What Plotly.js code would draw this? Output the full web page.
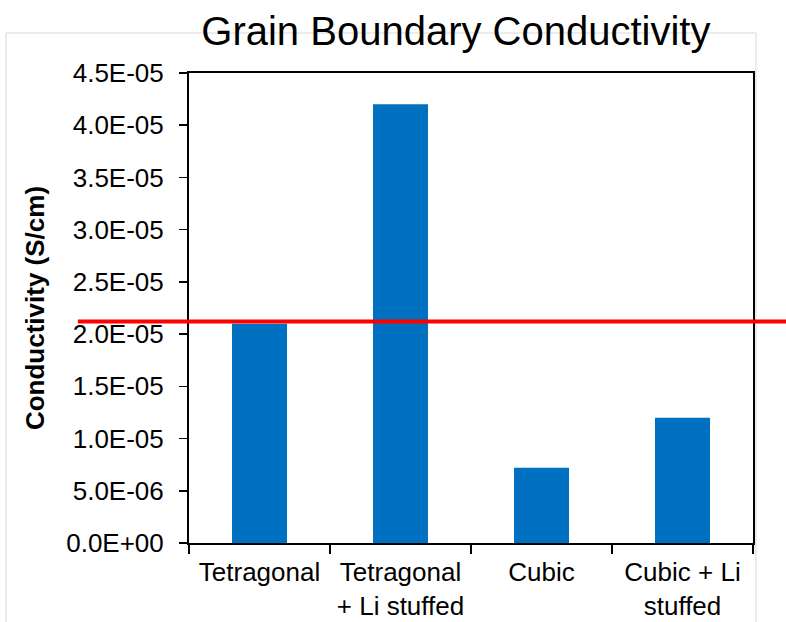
<!DOCTYPE html>
<html>
<head>
<meta charset="utf-8">
<script src="https://cdn.plot.ly/plotly-3.0.1.min.js"></script>
<style>html,body{margin:0;padding:0;background:#fff;}#chart{width:786px;height:622px;}</style>
</head>
<body>
<div id="chart"></div>
<script>
const categories = ["Tetragonal", "Tetragonal<br>+ Li stuffed", "Cubic", "Cubic + Li<br>stuffed"];
const conductivity = [2.1e-5, 4.2e-5, 7.2e-6, 1.2e-5];
const referenceLevel = 2.12e-5;
const yTickVals = [0, 5e-6, 1e-5, 1.5e-5, 2e-5, 2.5e-5, 3e-5, 3.5e-5, 4e-5, 4.5e-5];
const yTickText = ["0.0E+00", "5.0E-06", "1.0E-05", "1.5E-05", "2.0E-05", "2.5E-05", "3.0E-05", "3.5E-05", "4.0E-05", "4.5E-05"];

const font = "Liberation Sans, Arial, sans-serif";
const trace = {
  type: "bar",
  x: categories,
  y: conductivity,
  marker: {color: "#0070c0"},
  hoverinfo: "x+y"
};
const layout = {
  width: 786, height: 622,
  margin: {l: 189, r: 33, t: 73, b: 79},
  paper_bgcolor: "#fff", plot_bgcolor: "#fff",
  showlegend: false,
  bargap: 0.61,
  font: {family: font, color: "#000"},
  title: {
    text: "Grain Boundary Conductivity",
    font: {family: font, size: 40, color: "#000"},
    x: 0.58, xanchor: "center", y: 0.95, yanchor: "middle"
  },
  xaxis: {
    showline: true, linecolor: "#000", linewidth: 2, mirror: true,
    ticks: "outside", tickson: "boundaries", ticklen: 9, tickwidth: 1.5, tickcolor: "#000",
    tickfont: {family: font, size: 26, color: "#000"},
    ticklabelstandoff: 5,
    showgrid: false, zeroline: false, fixedrange: true
  },
  yaxis: {
    range: [0, 4.5e-5],
    tickvals: yTickVals, ticktext: yTickText,
    showline: true, linecolor: "#000", linewidth: 2, mirror: true,
    ticks: "outside", ticklen: 8, tickwidth: 1.5, tickcolor: "#000",
    tickfont: {family: font, size: 26, color: "#000"},
    ticklabelstandoff: 10,
    showgrid: false, zeroline: false, fixedrange: true,
    title: {text: "<b>Conductivity (S/cm)</b>", font: {family: font, size: 26, color: "#000"}, standoff: 14}
  },
  shapes: [
    {type: "rect", xref: "paper", yref: "paper", x0: -0.3245, x1: 1.0053, y0: -0.25, y1: 1.0851,
     line: {color: "#d9d9d9", width: 1}, fillcolor: "rgba(0,0,0,0)", layer: "below"},
    {type: "line", xref: "paper", yref: "y", x0: -0.197, x1: 1.1, y0: referenceLevel, y1: referenceLevel,
     line: {color: "#ff0000", width: 4}, layer: "above"}
  ]
};
Plotly.newPlot("chart", [trace], layout, {displayModeBar: false, staticPlot: true});
</script>
</body>
</html>
